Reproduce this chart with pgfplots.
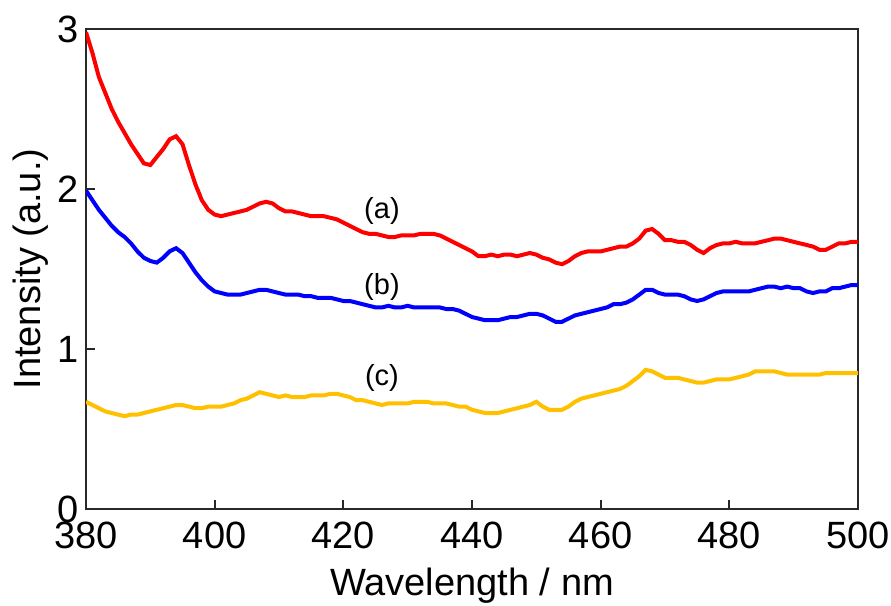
\documentclass[border=0pt]{standalone}
\usepackage{pgfplots}
\pgfplotsset{compat=1.18}
\usepackage{fontspec}
\setmainfont{Liberation Sans}

\definecolor{curvered}{RGB}{255,0,0}
\definecolor{curveblue}{RGB}{0,0,255}
\definecolor{curveyellow}{RGB}{255,192,0}
\definecolor{axisgray}{RGB}{40,40,40}

\pgfplotstableread{
x y
380 2.98
381 2.85
382 2.70
383 2.60
384 2.50
385 2.42
386 2.35
387 2.28
388 2.22
389 2.16
390 2.15
391 2.20
392 2.25
393 2.31
394 2.33
395 2.28
396 2.15
397 2.03
398 1.93
399 1.87
400 1.84
401 1.83
402 1.84
403 1.85
404 1.86
405 1.87
406 1.89
407 1.91
408 1.92
409 1.91
410 1.88
411 1.86
412 1.86
413 1.85
414 1.84
415 1.83
416 1.83
417 1.83
418 1.82
419 1.81
420 1.79
421 1.77
422 1.75
423 1.73
424 1.72
425 1.72
426 1.71
427 1.70
428 1.70
429 1.71
430 1.71
431 1.71
432 1.72
433 1.72
434 1.72
435 1.71
436 1.69
437 1.67
438 1.65
439 1.63
440 1.61
441 1.58
442 1.58
443 1.59
444 1.58
445 1.59
446 1.59
447 1.58
448 1.59
449 1.60
450 1.59
451 1.57
452 1.56
453 1.54
454 1.53
455 1.55
456 1.58
457 1.60
458 1.61
459 1.61
460 1.61
461 1.62
462 1.63
463 1.64
464 1.64
465 1.66
466 1.69
467 1.74
468 1.75
469 1.72
470 1.68
471 1.68
472 1.67
473 1.67
474 1.65
475 1.62
476 1.60
477 1.63
478 1.65
479 1.66
480 1.66
481 1.67
482 1.66
483 1.66
484 1.66
485 1.67
486 1.68
487 1.69
488 1.69
489 1.68
490 1.67
491 1.66
492 1.65
493 1.64
494 1.62
495 1.62
496 1.64
497 1.66
498 1.66
499 1.67
500 1.67
}\seriesa

\pgfplotstableread{
x y
380 1.99
381 1.93
382 1.87
383 1.82
384 1.77
385 1.73
386 1.70
387 1.66
388 1.61
389 1.57
390 1.55
391 1.54
392 1.57
393 1.61
394 1.63
395 1.60
396 1.54
397 1.48
398 1.43
399 1.39
400 1.36
401 1.35
402 1.34
403 1.34
404 1.34
405 1.35
406 1.36
407 1.37
408 1.37
409 1.36
410 1.35
411 1.34
412 1.34
413 1.34
414 1.33
415 1.33
416 1.32
417 1.32
418 1.32
419 1.31
420 1.30
421 1.30
422 1.29
423 1.28
424 1.27
425 1.26
426 1.26
427 1.27
428 1.26
429 1.26
430 1.27
431 1.26
432 1.26
433 1.26
434 1.26
435 1.26
436 1.25
437 1.25
438 1.24
439 1.22
440 1.20
441 1.19
442 1.18
443 1.18
444 1.18
445 1.19
446 1.20
447 1.20
448 1.21
449 1.22
450 1.22
451 1.21
452 1.19
453 1.17
454 1.17
455 1.19
456 1.21
457 1.22
458 1.23
459 1.24
460 1.25
461 1.26
462 1.28
463 1.28
464 1.29
465 1.31
466 1.34
467 1.37
468 1.37
469 1.35
470 1.34
471 1.34
472 1.34
473 1.33
474 1.31
475 1.30
476 1.31
477 1.33
478 1.35
479 1.36
480 1.36
481 1.36
482 1.36
483 1.36
484 1.37
485 1.38
486 1.39
487 1.39
488 1.38
489 1.39
490 1.38
491 1.38
492 1.36
493 1.35
494 1.36
495 1.36
496 1.38
497 1.38
498 1.39
499 1.40
500 1.40
}\seriesb

\pgfplotstableread{
x y
380 0.67
381 0.65
382 0.63
383 0.61
384 0.60
385 0.59
386 0.58
387 0.59
388 0.59
389 0.60
390 0.61
391 0.62
392 0.63
393 0.64
394 0.65
395 0.65
396 0.64
397 0.63
398 0.63
399 0.64
400 0.64
401 0.64
402 0.65
403 0.66
404 0.68
405 0.69
406 0.71
407 0.73
408 0.72
409 0.71
410 0.70
411 0.71
412 0.70
413 0.70
414 0.70
415 0.71
416 0.71
417 0.71
418 0.72
419 0.72
420 0.71
421 0.70
422 0.68
423 0.68
424 0.67
425 0.66
426 0.65
427 0.66
428 0.66
429 0.66
430 0.66
431 0.67
432 0.67
433 0.67
434 0.66
435 0.66
436 0.66
437 0.65
438 0.64
439 0.64
440 0.62
441 0.61
442 0.60
443 0.60
444 0.60
445 0.61
446 0.62
447 0.63
448 0.64
449 0.65
450 0.67
451 0.64
452 0.62
453 0.62
454 0.62
455 0.64
456 0.67
457 0.69
458 0.70
459 0.71
460 0.72
461 0.73
462 0.74
463 0.75
464 0.77
465 0.80
466 0.83
467 0.87
468 0.86
469 0.84
470 0.82
471 0.82
472 0.82
473 0.81
474 0.80
475 0.79
476 0.79
477 0.80
478 0.81
479 0.81
480 0.81
481 0.82
482 0.83
483 0.84
484 0.86
485 0.86
486 0.86
487 0.86
488 0.85
489 0.84
490 0.84
491 0.84
492 0.84
493 0.84
494 0.84
495 0.85
496 0.85
497 0.85
498 0.85
499 0.85
500 0.85
}\seriesc

\begin{document}
\begin{tikzpicture}
\begin{axis}[
  scale only axis,
  width=386pt, height=240pt,
  xmin=380, xmax=500,
  ymin=0, ymax=3,
  xtick={380,400,...,500},
  ytick={0,1,2,3},
  tick align=inside,
  xtick pos=bottom,
  ytick pos=left,
  major tick length=4.5pt,
  tick style={axisgray, line width=1pt},
  axis line style={axisgray, line width=1.3pt},
  /pgf/number format/assume math mode=true,
  ticklabel style={font=\fontsize{19}{21}\selectfont},
  xticklabel style={yshift=-3pt},
  label style={font=\fontsize{19}{21}\selectfont},
  xlabel={Wavelength / nm},
  ylabel={Intensity (a.u.)},
  xlabel style={yshift=-2.5pt},
  ylabel style={yshift=-2pt},
]
\addplot [curvered, line width=2pt] table {\seriesa};
\addplot [curveblue, line width=2pt] table {\seriesb};
\addplot [curveyellow, line width=2pt] table {\seriesc};
\node [font=\fontsize{14.5}{16}\selectfont] at (axis cs:426,1.86) {(a)};
\node [font=\fontsize{14.5}{16}\selectfont] at (axis cs:426,1.39) {(b)};
\node [font=\fontsize{14.5}{16}\selectfont] at (axis cs:426,0.82) {(c)};
\coordinate (tl) at (rel axis cs:0,1);
\coordinate (br) at (rel axis cs:1,0);
\end{axis}
\pgfresetboundingbox
\useasboundingbox ([shift={(-43pt,14.5pt)}]tl) rectangle ([shift={(16.5pt,-48pt)}]br);
\end{tikzpicture}
\end{document}
